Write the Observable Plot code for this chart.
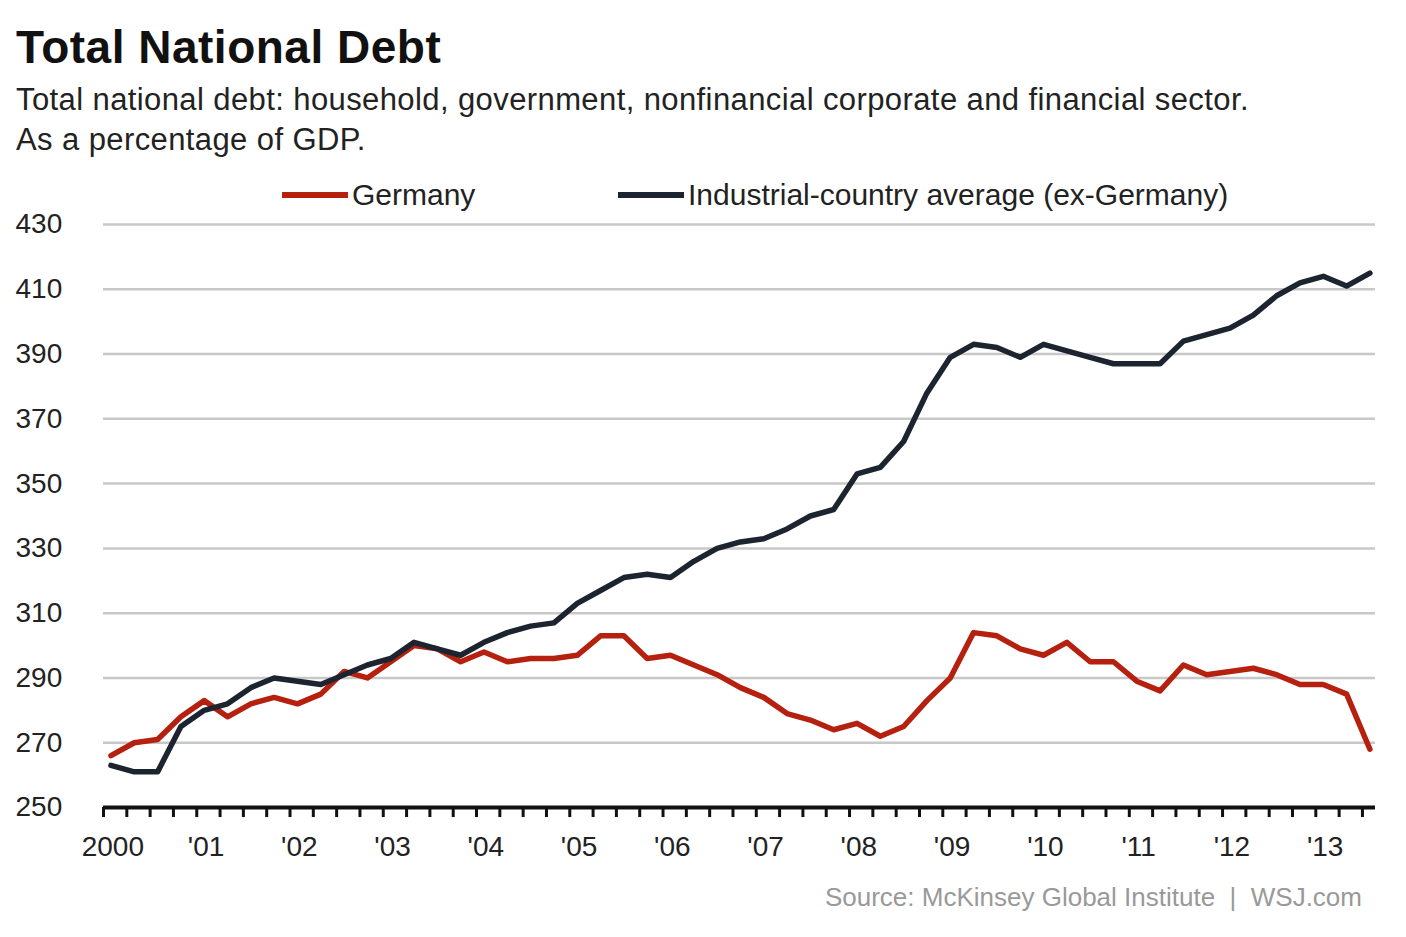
<!DOCTYPE html>
<html><head><meta charset="utf-8">
<script src="https://cdn.jsdelivr.net/npm/d3@7"></script>
<script src="https://cdn.jsdelivr.net/npm/@observablehq/plot@0.6"></script>
<style>
body{margin:0;background:#fff;font-family:"Liberation Sans",Arial,sans-serif;width:1406px;height:937px;position:relative;overflow:hidden}
#title{position:absolute;left:16px;top:20px;font-size:46px;font-weight:bold;color:#111;letter-spacing:0.5px}
#sub{position:absolute;left:16px;top:80px;font-size:31px;line-height:40px;color:#222;letter-spacing:0.4px}
#legend{position:absolute;top:178px;left:282px;font-size:30px;color:#222}
.li{position:absolute;display:flex;align-items:center;white-space:nowrap}
.sw{width:66px;height:6px;margin-right:4px}
#chart{position:absolute;left:0;top:200px}
#src{position:absolute;right:44px;top:882px;font-size:26px;color:#999}
</style></head><body>
<div id="title">Total National Debt</div>
<div id="sub">Total national debt: household, government, nonfinancial corporate and financial sector.<br>As a percentage of GDP.</div>
<div id="legend"><div class="li" style="left:0"><div class="sw" style="background:#b5200f"></div>Germany</div><div class="li" style="left:336px"><div class="sw" style="background:#1c2430"></div>Industrial-country average (ex-Germany)</div></div>
<div id="chart"></div>
<div id="src">Source: McKinsey Global Institute &nbsp;|&nbsp; WSJ.com</div>
<script>
const germany=[266,270,271,278,283,278,282,284,282,285,292,290,295,300,299,295,298,295,296,296,297,303,303,296,297,294,291,287,284,279,277,274,276,272,275,283,290,304,303,299,297,301,295,295,289,286,294,291,292,293,291,288,288,285,268];
const industrial=[263,261,261,275,280,282,287,290,289,288,291,294,296,301,299,297,301,304,306,307,313,317,321,322,321,326,330,332,333,336,340,342,353,355,363,378,389,393,392,389,393,391,389,387,387,387,394,396,398,402,408,412,414,411,415];
const yTicks=[250,270,290,310,330,350,370,390,410,430];
const years=d3.range(2000,2014);
const yearLabels=years.map(y=>y===2000?"2000":"'"+String(y%100).padStart(2,"0"));
const quarters=d3.range(0,55).map(i=>2000+i*0.25);
const rows=[];
germany.forEach((v,i)=>rows.push({x:2000.08+i*0.25,v,s:"Germany"}));
industrial.forEach((v,i)=>rows.push({x:2000.08+i*0.25,v,s:"Industrial"}));
const chart=Plot.plot({
  width:1406,height:667,marginLeft:103,marginRight:31,marginTop:24,marginBottom:60,
  style:{fontFamily:"Liberation Sans, Arial, sans-serif",fontSize:"28px",color:"#222"},
  x:{domain:[2000,2013.64],axis:null},
  y:{domain:[250,430],axis:null},
  color:{domain:["Germany","Industrial"],range:["#b5200f","#1c2430"]},
  marks:[
    Plot.ruleY(yTicks.filter(t=>t>250),{stroke:"#c8c8c8",strokeWidth:2.5,x1:2000,x2:2013.64}),
    Plot.text(yTicks,{x:2000,y:d=>d,text:d=>String(d),textAnchor:"start",dx:-88,fontSize:28,fill:"#222"}),
    Plot.line(rows,{x:"x",y:"v",z:"s",stroke:"s",strokeWidth:5.5,strokeLinejoin:"round"}),
    Plot.ruleX(quarters,{x:d=>d,y1:246.9,y2:250,stroke:"#111",strokeWidth:3}),
    Plot.ruleY([250],{stroke:"#111",strokeWidth:4,x1:2000,x2:2013.64}),
    Plot.text(years,{x:d=>d+0.1,y:250,text:(d,i)=>yearLabels[i],dy:40,fontSize:28,fill:"#222"})
  ]
});
document.getElementById("chart").appendChild(chart);
</script></body></html>
